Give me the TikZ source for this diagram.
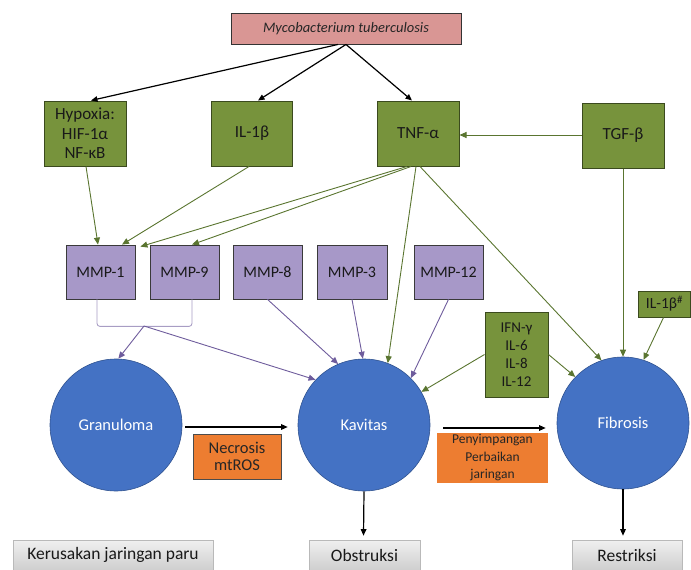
\documentclass[tikz,border=0pt]{standalone}
\usepackage{fontspec}
\setmainfont{Carlito}
\usetikzlibrary{arrows.meta,calc}
\definecolor{gfill}{HTML}{77933C}
\definecolor{gdraw}{HTML}{3B4A1E}
\definecolor{garrow}{HTML}{5A7530}
\definecolor{pfill}{HTML}{A798C8}
\definecolor{pdraw}{HTML}{3A3A3A}
\definecolor{parrow}{HTML}{6E5C9C}
\definecolor{bfill}{HTML}{4472C4}
\definecolor{bdraw}{HTML}{2F528F}
\definecolor{ofill}{HTML}{ED7D31}
\definecolor{pinkfill}{HTML}{D99694}
\tikzset{
  x=1pt, y=-1pt,
  gbox/.style={draw=gdraw, line width=1pt, fill=gfill, inner sep=0pt, align=center, text=black!90, font=\fontsize{17}{19.5}\selectfont},
  pbox/.style={draw=pdraw, line width=0.8pt, fill=pfill, inner sep=0pt, align=center, text=black!90, minimum width=69pt, minimum height=54pt, font=\fontsize{16}{18}\selectfont},
  circ/.style={circle, draw=bdraw, line width=0.6pt, fill=bfill, minimum size=132pt, inner sep=0pt, text=white, font=\fontsize{16.5}{19}\selectfont},
  obox/.style={draw=black!70, line width=0.8pt, fill=ofill, inner sep=0pt, align=center, text=black!85},
  graybox/.style={draw=gray!55, line width=0.6pt, top color=gray!12, bottom color=gray!38, inner sep=0pt, minimum height=30pt, text=black!90, font=\fontsize{17.5}{20}\selectfont},
  blackarr/.style={draw=black, line width=1.2pt, -{Triangle[length=6.5pt,width=5.5pt]}},
  garr/.style={draw=garrow, line width=0.9pt, -{Triangle[length=7pt,width=6pt]}},
  parr/.style={draw=parrow, line width=0.9pt, -{Triangle[length=7pt,width=6pt]}},
}
\begin{document}
\begin{tikzpicture}
\useasboundingbox (0,0) rectangle (691,570);
% top
\node[draw=black!80, line width=0.9pt, fill=pinkfill, minimum width=230pt, minimum height=31pt, inner sep=0pt, font=\itshape\fontsize{14.5}{17}\selectfont, text=black!85] (mtb) at (346,28.5) {Mycobacterium tuberculosis};
\node[gbox, minimum width=82pt, minimum height=65pt] (hyp) at (85,133.5) {Hypoxia:\\HIF-1α\\NF-κB};
\node[gbox, minimum width=81pt, minimum height=65pt] (il1) at (252,133.5) {IL-1β};
\node[gbox, minimum width=82pt, minimum height=65pt] (tnf) at (418,133.5) {TNF-α};
\node[gbox, minimum width=82pt, minimum height=65pt] (tgf) at (623,135.5) {TGF-β};
% MMPs
\node[pbox] (mmp1) at (100.5,272) {MMP-1};
\node[pbox] (mmp9) at (184.5,272) {MMP-9};
\node[pbox] (mmp8) at (267.5,272) {MMP-8};
\node[pbox, minimum width=70pt] (mmp3) at (352,272) {MMP-3};
\node[pbox] (mmp12) at (448.5,272) {MMP-12};
% side green boxes
\node[gbox, minimum width=52pt, minimum height=26pt, font=\fontsize{15.5}{17}\selectfont] (il1h) at (664.5,304) {IL-1β\textsuperscript{\#}};
\node[gbox, minimum width=63pt, minimum height=85pt, font=\fontsize{15}{18}\selectfont] (ifn) at (516.5,354.5) {IFN-γ\\IL-6\\IL-8\\IL-12};
% circles
\node[circ] (gran) at (116,425) {Granuloma};
\node[circ] (kav) at (364,425) {Kavitas};
\node[circ] (fib) at (623,423) {Fibrosis};
% orange boxes
\node[obox, minimum width=88pt, minimum height=45pt, font=\fontsize{16.5}{17.5}\selectfont] (nec) at (237,456.5) {Necrosis\\mtROS};
\node[obox, draw=none, minimum width=111pt, minimum height=50pt, font=\fontsize{13.5}{17.5}\selectfont] (pen) at (492.5,458) {Penyimpangan\\Perbaikan\\jaringan};
% bottom
\node[graybox, minimum width=200pt] (ker) at (113,555) {Kerusakan jaringan paru};
\node[graybox, minimum width=111pt] (obs) at (364.5,555) {Obstruksi};
\node[graybox, minimum width=110pt] (res) at (627,555) {Restriksi};

% black arrows from Mtb
\draw[blackarr] ($(mtb.south)+(-8,0)$) -- ($(hyp.north)+(6,0)$);
\draw[blackarr] (mtb.south) -- ($(il1.north)+(6,0)$);
\draw[blackarr] (mtb.south) -- ($(tnf.north)+(-6,0)$);
% TGF to TNF
\draw[garr] (tgf.west |- 0,135) -- (tnf.east |- 0,135);
% to MMP-1 / MMP-9
\draw[garr] ($(hyp.south)+(1,0)$) -- ($(mmp1.north)+(-2.5,0)$);
\draw[garr] ($(il1.south)+(-3,0)$) -- ($(mmp1.north)+(21.5,0)$);
\draw[garr] ($(tnf.south)+(-11,0)$) -- ($(mmp1.north east)+(5,2)$);
\draw[garr] ($(tnf.south)+(-7,0)$) -- ($(mmp9.north)+(7.5,0)$);
% TNF to Kavitas / Fibrosis
\draw[garr] ($(tnf.south)+(-2,0)$) -- (kav.69.6);
\draw[garr] ($(tnf.south)+(2,0)$) -- (fib.109);
% TGF to Fibrosis
\draw[garr] (tgf.south) -- (fib.north);
\draw[garr] ($(il1h.south)+(-1,0)$) -- (fib.72);
\draw[garr] (ifn.west) -- (kav.30);
\draw[garr] (ifn.east) -- (fib.136);
% MMPs to Kavitas
\draw[parr] (mmp8.south) -- (kav.113);
\draw[parr] (mmp3.south) -- (kav.91);
\draw[parr] (mmp12.south) -- (kav.45);
% bracket
\draw[draw=parrow!60, line width=0.9pt, rounded corners=3pt] ($(mmp1.south)+(-3.5,0)$) -- ++(0,27) -- ($(mmp9.south)+(7.5,27)$) -- ($(mmp9.south)+(7.5,0)$);
\coordinate (bmid) at (144,326);
\draw[parr] (bmid) -- (gran.88);
\draw[parr] (bmid) -- (kav.137);
% horizontal flow
\draw[blackarr] ($(gran.east)+(3,2)$) -- ($(kav.west)+(-10,2)$);
\draw[blackarr] ($(kav.east)+(13,3)$) -- ($(fib.west)+(-11,5)$);
\draw[blackarr] (kav.south) -- ($(obs.north)+(-1,-4)$);
\draw[blackarr] (fib.south) -- ($(res.north)+(-4,-4)$);
\end{tikzpicture}
\end{document}
